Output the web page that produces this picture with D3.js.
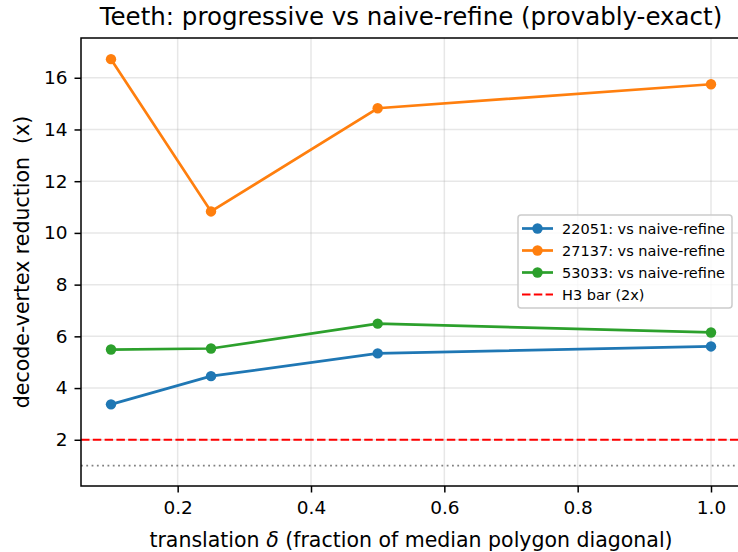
<!DOCTYPE html>
<html lang="en">
<head>
<meta charset="UTF-8">
<title>Teeth: progressive vs naive-refine</title>
<script src="https://cdnjs.cloudflare.com/ajax/libs/d3/7.8.5/d3.min.js"></script>
<style>
    body { margin: 0; background: #fff; overflow: hidden; }
    svg { font-family: "DejaVu Sans", sans-serif; }
</style>
</head>
<body>
<svg id="chart" width="738" height="552"></svg>
<script>
    // Data
    const deltas = [0.1, 0.25, 0.5, 1.0];
    const seriesNames = ["22051: vs naive-refine", "27137: vs naive-refine", "53033: vs naive-refine"];
    const seriesColors = ["#1f77b4", "#ff7f0e", "#2ca02c"];
    const values22051 = [3.37, 4.46, 5.34, 5.61];
    const values27137 = [16.72, 10.83, 14.82, 15.75];
    const values53033 = [5.49, 5.53, 6.49, 6.15];
    const xTicks = [0.2, 0.4, 0.6, 0.8, 1.0];
    const yTicks = [2, 4, 6, 8, 10, 12, 14, 16];
    const h3Bar = 2;
    const baseline = 1;

    const series = [values22051, values27137, values53033];

    const margin = { top: 38, left: 81, right: 741, bottom: 486 };

    const svg = d3.select("#chart");

    const x = d3.scaleLinear().domain([0.055, 1.045]).range([margin.left, margin.right]);
    const y = d3.scaleLinear().domain([0.2125, 17.5375]).range([margin.bottom, margin.top]);

    // Grid
    svg.append("g").selectAll("line").data(xTicks).enter().append("line")
        .attr("x1", d => x(d)).attr("x2", d => x(d))
        .attr("y1", margin.top).attr("y2", margin.bottom)
        .attr("stroke", "#b0b0b0").attr("stroke-opacity", 0.3).attr("stroke-width", 1.5);
    svg.append("g").selectAll("line").data(yTicks).enter().append("line")
        .attr("x1", margin.left).attr("x2", margin.right)
        .attr("y1", d => y(d)).attr("y2", d => y(d))
        .attr("stroke", "#b0b0b0").attr("stroke-opacity", 0.3).attr("stroke-width", 1.5);

    // Reference lines
    svg.append("line")
        .attr("x1", margin.left).attr("x2", margin.right)
        .attr("y1", y(baseline)).attr("y2", y(baseline))
        .attr("stroke", "#808080").attr("stroke-width", 1.8)
        .attr("stroke-dasharray", "1.8 3.5");
    svg.append("line")
        .attr("x1", margin.left).attr("x2", margin.right)
        .attr("y1", y(h3Bar)).attr("y2", y(h3Bar))
        .attr("stroke", "red").attr("stroke-width", 2)
        .attr("stroke-dasharray", "8.5 3.3");

    // Series
    const line = d3.line().x((d, i) => x(deltas[i])).y(d => y(d));
    series.forEach((vals, s) => {
        svg.append("path").datum(vals)
            .attr("d", line)
            .attr("fill", "none")
            .attr("stroke", seriesColors[s])
            .attr("stroke-width", 2.7);
        svg.append("g").selectAll("circle").data(vals).enter().append("circle")
            .attr("cx", (d, i) => x(deltas[i]))
            .attr("cy", d => y(d))
            .attr("r", 5.2)
            .attr("fill", seriesColors[s]);
    });

    // Axes
    const xAxis = svg.append("g")
        .attr("transform", `translate(0,${margin.bottom})`)
        .call(d3.axisBottom(x).tickValues(xTicks).tickFormat(d3.format(".1f")).tickSize(6.5).tickPadding(8));
    const yAxis = svg.append("g")
        .attr("transform", `translate(${margin.left},0)`)
        .call(d3.axisLeft(y).tickValues(yTicks).tickFormat(d3.format("d")).tickSize(6.5).tickPadding(7));
    [xAxis, yAxis].forEach(g => {
        g.select(".domain").remove();
        g.selectAll(".tick line").attr("stroke", "#000").attr("stroke-width", 1.5);
        g.selectAll(".tick text").attr("font-size", 18.5).attr("fill", "#000")
            .attr("font-family", "DejaVu Sans, sans-serif");
    });

    // Spines
    svg.append("rect")
        .attr("x", margin.left).attr("y", margin.top)
        .attr("width", margin.right - margin.left).attr("height", margin.bottom - margin.top)
        .attr("fill", "none").attr("stroke", "#000").attr("stroke-width", 1.5);

    // Title and labels
    svg.append("text")
        .attr("x", (margin.left + margin.right) / 2).attr("y", 25)
        .attr("text-anchor", "middle").attr("font-size", 24.5).attr("fill", "#000")
        .text("Teeth: progressive vs naive-refine (provably-exact)");

    const xl = svg.append("text")
        .attr("x", (margin.left + margin.right) / 2).attr("y", 547)
        .attr("text-anchor", "middle").attr("font-size", 20.5).attr("fill", "#000");
    xl.append("tspan").text("translation ");
    xl.append("tspan").attr("font-style", "italic").text("δ");
    xl.append("tspan").text(" (fraction of median polygon diagonal)");

    svg.append("text")
        .attr("transform", `translate(29,${(margin.top + margin.bottom) / 2}) rotate(-90)`)
        .attr("text-anchor", "middle").attr("font-size", 20.5).attr("fill", "#000")
        .attr("xml:space", "preserve").style("white-space", "pre")
        .text("decode-vertex reduction  (x)");

    // Legend
    const legend = svg.append("g").attr("transform", "translate(518,215)");
    legend.append("rect")
        .attr("width", 214).attr("height", 93).attr("rx", 3)
        .attr("fill", "#fff").attr("fill-opacity", 0.8)
        .attr("stroke", "#cccccc").attr("stroke-width", 1.5);
    const legendItems = seriesNames.map((n, i) => ({ name: n, color: seriesColors[i], dashed: false }))
        .concat([{ name: "H3 bar (2x)", color: "red", dashed: true }]);
    legendItems.forEach((d, i) => {
        const gy = 13.5 + i * 22;
        legend.append("line")
            .attr("x1", 4).attr("x2", 35).attr("y1", gy).attr("y2", gy)
            .attr("stroke", d.color).attr("stroke-width", d.dashed ? 2 : 2.7)
            .attr("stroke-dasharray", d.dashed ? "8.5 3.3" : null);
        if (!d.dashed) {
            legend.append("circle").attr("cx", 19.5).attr("cy", gy).attr("r", 5.2).attr("fill", d.color);
        }
        legend.append("text")
            .attr("x", 44).attr("y", gy).attr("dy", "0.36em")
            .attr("font-size", 14.5).attr("fill", "#000")
            .text(d.name);
    });
</script>
</body>
</html>
